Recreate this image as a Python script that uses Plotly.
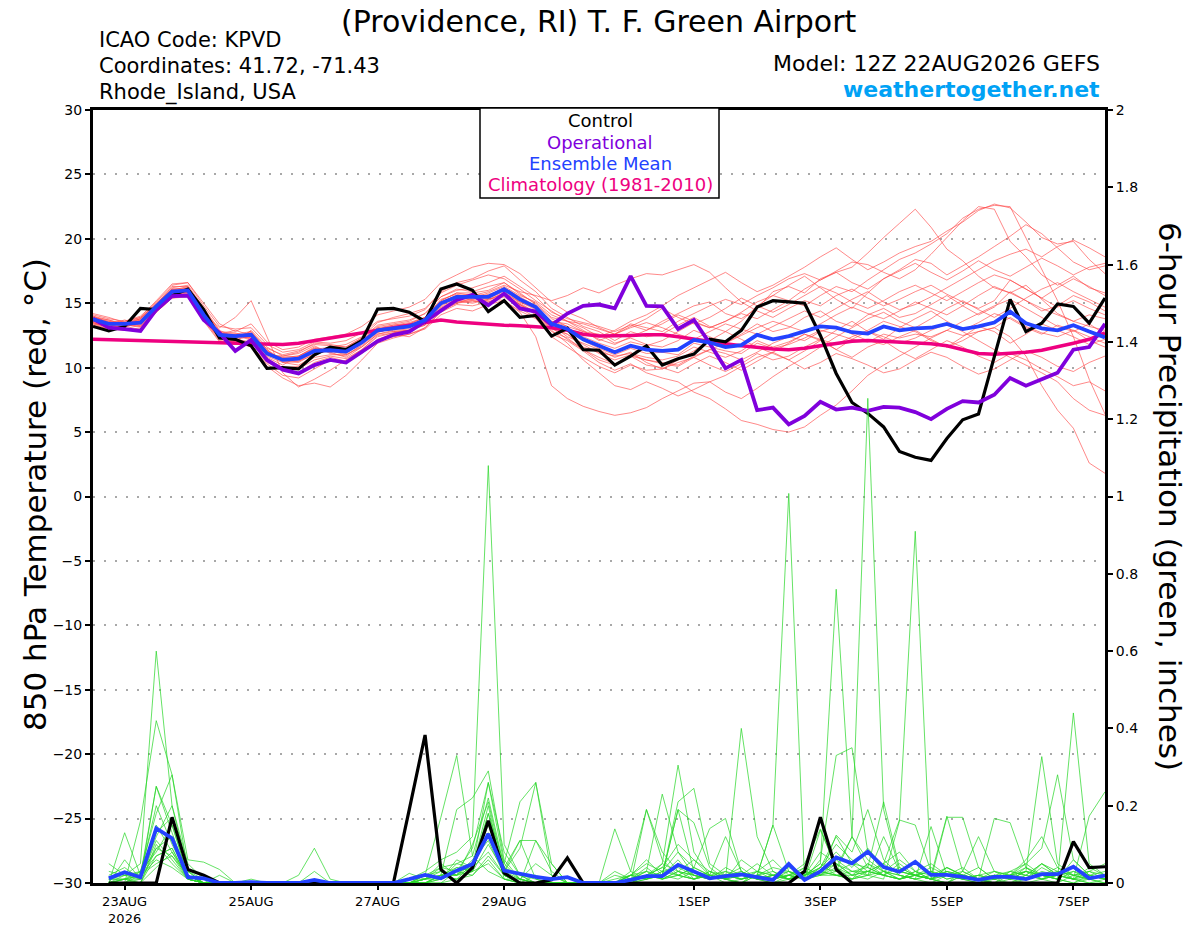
import pandas as pd
import plotly.graph_objects as go

# 6-hourly valid times, GEFS 12Z 22AUG2026 run
times = pd.date_range("2026-08-22 12:00", periods=65, freq="6h")
precip_times = times[1:]

tick_dates = ["2026-08-23", "2026-08-25", "2026-08-27", "2026-08-29",
              "2026-09-01", "2026-09-03", "2026-09-05", "2026-09-07"]
tick_labels = ["23AUG<br>2026", "25AUG", "27AUG", "29AUG",
               "1SEP", "3SEP", "5SEP", "7SEP"]

# ---- 850 hPa temperature (C) ----
control_t = [13.2, 12.85, 13.2, 14.6, 14.5, 15.6, 16.1, 14.5, 12.3, 12.2, 11.7, 9.95, 10.0,
             9.9, 11.0, 11.6, 11.4, 12.1, 14.55, 14.6, 14.3, 13.6, 16.1, 16.5, 16.0, 14.35,
             15.2, 13.9, 14.05, 12.45, 13.05, 11.4, 11.35, 10.2, 10.9, 11.7, 10.2, 10.7, 11.05,
             12.2, 12.0, 12.9, 14.7, 15.2, 15.1, 15.0, 12.5, 9.55, 7.3, 6.45, 5.4, 3.5,
             3.05, 2.8, 4.5, 5.95, 6.4, 10.9, 15.3, 12.8, 13.45, 14.95, 14.75, 13.45, 15.4]
operational_t = [13.8, 13.1, 13.0, 12.85, 14.5, 15.55, 15.6, 13.7, 12.7, 11.3, 12.15, 10.6, 9.85,
                 9.55, 10.2, 10.6, 10.4, 11.2, 12.05, 12.55, 12.8, 13.6, 14.45, 15.25, 15.65, 14.85,
                 15.75, 14.6, 14.35, 13.3, 14.2, 14.8, 14.9, 14.6, 17.1, 14.8, 14.75, 13.0, 13.7,
                 11.9, 9.95, 10.6, 6.7, 6.9, 5.6, 6.25, 7.35, 6.75, 6.9, 6.65, 6.95, 6.9,
                 6.55, 6.0, 6.8, 7.4, 7.3, 7.9, 9.2, 8.6, 9.1, 9.6, 11.4, 11.6, 13.4]
ens_mean_t = [13.75, 13.4, 13.4, 13.5, 14.75, 15.9, 16.0, 14.1, 12.55, 12.45, 12.55, 11.1, 10.6,
              10.7, 11.3, 11.35, 11.25, 11.95, 12.9, 13.05, 13.2, 13.7, 15.0, 15.5, 15.5, 15.5,
              16.1, 15.3, 14.7, 13.4, 13.0, 12.2, 11.7, 11.2, 11.7, 11.4, 11.3, 11.4, 12.15,
              11.95, 11.6, 11.75, 12.55, 12.2, 12.45, 12.8, 13.2, 13.1, 12.75, 12.65, 13.2, 12.9,
              13.05, 13.1, 13.4, 13.0, 13.2, 13.5, 14.35, 13.45, 13.05, 12.9, 13.3, 12.8, 12.35]
climatology_t = [12.2, 12.17, 12.14, 12.1, 12.07, 12.03, 12.0, 11.97, 11.93, 11.9, 11.87, 11.83, 11.8,
                 11.9, 12.1, 12.3, 12.5, 12.7, 12.9, 13.1, 13.3, 13.5, 13.7, 13.55, 13.45, 13.35,
                 13.3, 13.25, 13.2, 13.1, 12.9, 12.6, 12.45, 12.45, 12.5, 12.55, 12.55, 12.4, 12.2,
                 12.0, 11.85, 11.7, 11.55, 11.45, 11.4, 11.5, 11.7, 11.9, 12.05, 12.1, 12.05, 12.0,
                 11.95, 11.85, 11.7, 11.4, 11.1, 11.05, 11.1, 11.2, 11.35, 11.6, 11.9, 12.2, 12.7]

t01 = [13.9, 13.6, 13.3, 13.8, 15.0, 16.2, 16.4, 14.6, 12.9, 12.3, 12.8, 11.4, 10.4,
       10.2, 10.9, 11.6, 11.8, 12.4, 13.5, 13.9, 14.2, 14.6, 15.8, 16.4, 16.8, 17.2,
       16.9, 16.1, 15.2, 14.4, 13.6, 12.9, 12.1, 12.6, 13.4, 13.1, 12.8, 13.6, 14.2,
       14.8, 15.3, 14.9, 15.6, 16.2, 16.9, 17.3, 16.8, 17.5, 18.2, 18.0, 17.4, 16.9,
       17.6, 18.8, 20.1, 21.4, 22.5, 22.3, 19.8, 18.6, 17.2, 16.4, 17.1, 16.2, 15.8]
t02 = [13.6, 13.2, 13.5, 13.3, 14.5, 15.7, 15.9, 13.8, 12.2, 12.6, 12.1, 10.8, 10.2,
       10.9, 11.6, 11.2, 10.8, 11.6, 12.6, 12.9, 13.0, 13.4, 14.6, 15.2, 15.0, 15.3,
       15.8, 14.9, 14.2, 13.1, 12.2, 11.4, 10.6, 10.2, 10.9, 10.6, 10.3, 10.1, 10.8,
       11.4, 11.1, 10.6, 11.2, 11.9, 12.4, 12.1, 12.8, 13.2, 12.6, 12.1, 11.8, 12.4,
       12.9, 12.2, 11.6, 12.1, 12.8, 13.1, 12.4, 10.9, 8.6, 6.7, 5.3, 2.6, 1.8]
t03 = [14.0, 13.5, 13.6, 13.9, 14.9, 16.0, 16.3, 14.2, 12.4, 12.0, 12.9, 11.6, 10.9,
       11.2, 11.9, 11.8, 11.6, 12.3, 13.2, 13.4, 13.6, 14.2, 15.5, 16.1, 15.9, 16.3,
       16.6, 15.8, 14.9, 13.8, 13.2, 12.8, 12.2, 11.8, 12.4, 12.9, 13.6, 14.2, 14.8,
       15.1, 14.2, 13.8, 14.6, 15.9, 16.3, 15.8, 16.9, 17.4, 17.8, 18.9, 20.1, 21.2,
       22.3, 20.9, 19.2, 18.3, 17.1, 16.2, 15.8, 16.4, 15.3, 14.2, 13.6, 14.1, 13.8]
t04 = [13.5, 13.1, 13.2, 13.4, 14.6, 15.6, 15.8, 14.3, 12.8, 12.7, 12.3, 11.0, 10.8,
       10.9, 11.5, 11.2, 11.4, 12.1, 13.1, 12.8, 12.9, 13.5, 14.8, 15.3, 15.6, 15.4,
       15.2, 14.3, 12.4, 8.6, 7.6, 7.0, 6.6, 6.3, 6.5, 6.9, 7.6, 8.2, 8.8,
       8.9, 9.4, 10.1, 10.8, 11.2, 11.9, 12.6, 12.2, 11.8, 12.4, 12.9, 13.6, 13.2,
       12.8, 12.1, 11.6, 12.4, 13.2, 12.8, 11.9, 12.6, 13.4, 12.9, 12.4, 11.8, 12.2]
t05 = [13.8, 13.3, 13.1, 13.6, 14.8, 16.1, 15.8, 13.9, 12.6, 12.9, 12.5, 11.3, 10.5,
       10.4, 11.1, 11.3, 11.0, 11.7, 12.7, 13.2, 13.4, 13.9, 15.2, 15.8, 15.6, 15.9,
       16.4, 15.9, 15.6, 15.2, 15.6, 16.2, 15.8, 16.4, 16.9, 17.3, 17.2, 17.6, 18.0,
       17.4, 16.2, 15.1, 14.4, 13.9, 14.6, 15.2, 14.8, 15.6, 16.1, 15.4, 14.8, 15.3,
       15.9, 16.4, 15.7, 15.1, 14.6, 15.2, 16.8, 16.1, 15.4, 14.7, 15.2, 14.6, 14.1]
t06 = [13.4, 13.0, 13.4, 13.2, 14.4, 15.5, 15.6, 13.6, 12.0, 11.8, 11.9, 10.6, 9.8,
       9.6, 10.4, 10.8, 10.5, 11.2, 12.2, 12.6, 12.4, 13.1, 14.3, 14.9, 14.8, 15.1,
       15.5, 14.6, 13.9, 12.6, 12.1, 11.3, 10.4, 9.8, 10.3, 9.6, 9.2, 8.9, 8.1,
       7.6, 6.8, 5.9, 5.6, 5.2, 5.0, 5.4, 6.3, 7.1, 8.2, 9.4, 10.2, 10.9,
       11.6, 12.3, 12.9, 13.6, 14.2, 14.8, 15.3, 14.6, 13.9, 13.2, 12.8, 13.4, 12.6]
t07 = [13.7, 13.5, 13.3, 13.7, 14.7, 15.8, 16.1, 14.0, 12.5, 12.3, 12.6, 11.2, 10.7,
       10.8, 11.4, 11.6, 11.3, 12.0, 13.0, 13.2, 13.3, 13.8, 15.1, 15.6, 15.7, 15.6,
       16.2, 15.4, 14.8, 13.6, 13.4, 12.8, 12.6, 11.9, 12.3, 11.8, 11.6, 12.1, 12.9,
       12.4, 11.9, 12.6, 13.4, 12.8, 13.1, 13.9, 14.4, 13.6, 13.2, 14.1, 14.6, 13.9,
       14.2, 14.9, 15.6, 14.8, 14.1, 14.7, 15.9, 15.2, 14.4, 14.8, 15.6, 15.1, 14.4]
t08 = [14.1, 13.8, 13.6, 14.0, 15.1, 16.4, 16.6, 14.8, 13.2, 13.0, 13.1, 11.8, 11.2,
       11.4, 12.0, 11.9, 12.1, 12.7, 13.6, 13.8, 14.0, 14.5, 15.9, 16.6, 16.9, 17.5,
       17.9, 16.8, 15.9, 14.6, 13.9, 13.2, 12.8, 12.1, 12.8, 12.4, 12.6, 13.3, 13.9,
       13.2, 12.8, 13.6, 14.8, 15.6, 16.4, 17.1, 16.2, 15.3, 14.6, 15.8, 16.9, 17.6,
       18.4, 18.1, 17.2, 17.9, 18.6, 19.4, 20.2, 21.1, 20.4, 19.3, 18.2, 17.6, 17.9]
t09 = [13.3, 13.0, 12.9, 13.1, 14.3, 15.4, 15.5, 13.7, 12.1, 12.0, 11.6, 10.3, 9.4,
       9.2, 9.9, 10.6, 10.4, 11.1, 12.1, 12.4, 12.6, 13.0, 14.1, 14.6, 14.4, 14.9,
       15.2, 14.4, 13.8, 12.4, 11.6, 10.8, 10.1, 9.6, 10.2, 9.8, 9.9, 10.4, 10.8,
       10.2, 9.7, 10.3, 11.1, 10.6, 10.9, 11.6, 12.2, 11.4, 10.8, 11.6, 12.1, 11.3,
       10.7, 11.4, 12.1, 11.6, 10.9, 10.4, 11.1, 10.6, 9.9, 9.3, 8.6, 8.9, 8.2]
t10 = [13.6, 13.4, 13.7, 13.4, 14.6, 15.9, 16.2, 14.4, 12.7, 12.6, 12.2, 11.0, 10.9,
       11.1, 11.7, 11.1, 10.9, 11.8, 12.8, 13.0, 13.1, 13.6, 14.9, 15.4, 15.3, 15.7,
       16.0, 15.1, 14.5, 13.2, 12.6, 11.6, 11.2, 10.9, 11.1, 10.8, 10.6, 10.9, 11.6,
       11.2, 10.8, 11.3, 12.1, 11.6, 12.0, 12.6, 12.1, 11.4, 12.2, 12.8, 12.4, 11.9,
       12.3, 12.9, 13.4, 12.8, 12.1, 11.4, 10.8, 10.2, 9.6, 8.9, 7.6, 6.7, 6.3]
t11 = [14.2, 13.9, 13.5, 13.9, 15.2, 16.5, 16.6, 15.0, 13.4, 12.8, 13.4, 12.0, 11.4,
       11.6, 12.2, 12.4, 12.6, 13.2, 14.1, 14.4, 14.7, 15.3, 16.6, 17.2, 17.8, 18.1,
       18.0, 17.3, 16.2, 15.1, 14.3, 13.8, 13.1, 12.6, 13.2, 13.8, 14.6, 13.9, 13.4,
       13.9, 14.6, 15.4, 14.8, 14.3, 14.9, 15.6, 16.3, 15.8, 15.1, 14.6, 15.2, 15.9,
       16.4, 15.8, 15.2, 15.9, 16.6, 17.2, 16.8, 16.1, 15.4, 16.2, 16.9, 16.3, 15.6]
t12 = [13.5, 13.2, 13.0, 13.3, 14.5, 15.6, 15.9, 14.2, 13.1, 13.9, 15.2, 12.4, 9.6,
       8.5, 9.1, 9.8, 10.6, 11.4, 12.5, 12.7, 12.9, 13.3, 14.5, 15.0, 15.2, 15.0,
       15.6, 14.9, 14.1, 13.3, 12.4, 11.9, 11.4, 10.8, 11.2, 10.4, 9.9, 10.6, 11.3,
       12.1, 12.8, 12.2, 11.6, 11.1, 10.6, 11.3, 12.1, 12.9, 13.6, 12.8, 12.2, 13.1,
       13.8, 14.4, 13.6, 12.9, 13.5, 14.2, 13.8, 13.1, 12.6, 13.3, 12.9, 12.4, 11.9]
t13 = [13.9, 13.7, 13.4, 13.8, 14.8, 15.8, 16.2, 14.4, 12.3, 11.9, 11.8, 10.1, 9.2,
       8.6, 8.8, 8.5, 9.4, 10.6, 11.9, 12.3, 12.6, 13.1, 14.4, 15.0, 15.4, 15.8,
       16.3, 15.6, 15.1, 14.1, 13.6, 13.1, 12.4, 12.9, 13.6, 14.1, 14.8, 15.6, 16.2,
       16.8, 17.4, 16.6, 15.9, 16.4, 17.1, 17.8, 18.6, 19.3, 18.4, 17.6, 18.2, 18.9,
       19.4, 19.8, 20.6, 21.3, 22.2, 22.7, 22.4, 21.3, 20.1, 19.6, 19.8, 18.4, 17.3]
t14 = [13.8, 13.4, 13.5, 13.6, 14.8, 16.0, 16.0, 13.9, 12.4, 12.5, 12.7, 11.3, 10.6,
       10.6, 11.2, 11.4, 11.5, 12.2, 13.1, 13.3, 13.4, 13.9, 15.3, 15.7, 15.4, 15.2,
       15.8, 15.1, 14.6, 13.6, 13.2, 12.1, 11.5, 11.0, 11.5, 11.1, 11.2, 11.0, 11.9,
       11.6, 11.3, 11.1, 11.9, 11.5, 11.8, 12.3, 12.9, 12.6, 12.2, 12.0, 12.6, 12.3,
       12.6, 12.4, 12.9, 12.5, 12.8, 13.1, 13.9, 13.2, 12.7, 12.4, 12.9, 12.1, 11.6]
t15 = [13.6, 13.3, 13.2, 13.5, 14.7, 15.7, 15.9, 14.0, 12.6, 12.4, 12.3, 10.9, 10.4,
       10.5, 11.0, 11.4, 11.2, 11.9, 12.8, 13.0, 13.2, 13.6, 14.9, 15.4, 15.3, 15.4,
       15.9, 15.0, 14.3, 12.9, 11.9, 10.6, 9.6, 8.6, 8.3, 8.9, 8.4, 7.8, 8.3,
       8.9, 8.1, 7.6, 8.4, 9.3, 10.1, 10.8, 11.6, 12.4, 13.1, 13.8, 14.3, 13.6,
       13.1, 13.8, 14.6, 15.2, 14.5, 13.9, 14.6, 15.4, 16.1, 16.6, 15.9, 15.3, 14.7]
t16 = [13.7, 13.6, 13.4, 13.7, 14.9, 16.1, 16.2, 14.3, 12.7, 12.4, 12.5, 11.1, 10.8,
       10.9, 11.5, 11.3, 11.1, 11.9, 12.9, 13.1, 13.3, 13.8, 15.1, 15.6, 15.5, 15.6,
       16.2, 15.5, 14.8, 13.5, 13.1, 12.4, 11.9, 11.5, 12.0, 11.7, 12.1, 12.8, 13.5,
       13.1, 13.6, 14.2, 13.8, 14.5, 15.2, 14.8, 15.6, 16.3, 15.9, 16.8, 17.6, 18.4,
       18.9, 19.6, 20.4, 21.6, 22.3, 22.6, 22.5, 20.1, 17.6, 15.2, 12.4, 9.1, 6.4]
t17 = [14.0, 13.7, 13.3, 13.6, 14.9, 16.3, 16.3, 14.5, 12.8, 12.2, 12.4, 11.5, 11.0,
       11.3, 11.8, 11.7, 11.6, 12.3, 13.3, 13.5, 13.7, 14.2, 15.5, 16.0, 16.2, 16.6,
       17.1, 16.3, 15.5, 14.3, 13.8, 13.5, 13.2, 12.8, 13.3, 12.9, 13.4, 14.1, 13.6,
       13.1, 13.6, 14.3, 15.1, 15.6, 15.2, 16.1, 16.8, 17.4, 16.6, 16.1, 16.9, 17.5,
       18.1, 17.4, 16.8, 17.5, 18.3, 17.6, 17.1, 17.8, 18.5, 17.9, 17.2, 17.8, 18.1]
t18 = [13.5, 13.1, 13.3, 13.2, 14.5, 15.7, 15.7, 13.8, 12.3, 12.2, 12.0, 10.7, 10.0,
       10.1, 10.8, 11.0, 11.0, 11.6, 12.6, 12.8, 12.9, 13.4, 14.7, 15.2, 15.2, 15.1,
       15.6, 14.8, 14.2, 12.8, 12.3, 11.4, 10.8, 10.3, 10.9, 10.2, 10.0, 9.6, 10.3,
       10.9, 10.4, 9.8, 10.5, 11.2, 10.6, 9.9, 10.4, 11.1, 10.7, 10.2, 9.6, 9.9,
       10.6, 11.2, 10.8, 10.1, 9.5, 9.9, 10.6, 11.3, 10.8, 10.1, 9.7, 10.4, 10.9]
t19 = [13.9, 13.5, 13.5, 13.8, 15.0, 16.1, 16.1, 14.2, 12.6, 12.6, 12.8, 11.4, 10.6,
       10.5, 11.2, 11.5, 11.3, 12.0, 13.0, 13.3, 13.5, 13.9, 15.2, 15.8, 15.8, 16.0,
       16.6, 15.7, 15.0, 13.9, 13.6, 13.4, 13.0, 12.6, 13.1, 13.5, 13.1, 12.6, 12.2,
       12.8, 13.4, 13.0, 12.6, 13.2, 13.8, 14.4, 13.9, 14.6, 15.3, 15.9, 15.1, 14.5,
       14.9, 15.5, 16.2, 16.9, 17.6, 18.3, 18.8, 19.2, 18.6, 19.4, 19.9, 19.3, 18.6]
t20 = [13.4, 13.2, 12.9, 13.0, 14.3, 15.4, 15.6, 13.7, 12.3, 12.1, 11.7, 10.4, 9.9,
       9.9, 10.6, 10.9, 10.7, 11.4, 12.4, 12.7, 12.9, 13.3, 14.6, 15.1, 15.1, 15.3,
       15.7, 14.9, 14.3, 13.0, 12.6, 11.8, 11.1, 10.6, 11.0, 10.6, 10.4, 10.2, 10.9,
       11.4, 11.9, 12.5, 13.1, 13.6, 13.2, 12.8, 13.4, 14.1, 14.7, 14.2, 13.8, 14.4,
       15.1, 14.6, 14.1, 14.8, 15.6, 16.3, 15.8, 15.2, 14.6, 14.1, 13.6, 13.2, 12.9]

# ---- 6-hour precipitation (inches), 22AUG 18Z onward ----
control_p = [0, 0, 0, 0, 0.17, 0.035, 0.02, 0, 0, 0, 0, 0, 0, 0, 0, 0,
             0, 0, 0, 0.19, 0.383, 0.035, 0, 0.04, 0.161, 0.026, 0, 0, 0.008, 0.065, 0, 0,
             0, 0, 0, 0, 0, 0, 0, 0, 0, 0, 0, 0, 0.03, 0.17, 0.035, 0,
             0, 0, 0, 0, 0, 0, 0, 0, 0, 0, 0, 0, 0, 0.107, 0.04, 0.042]
ens_mean_p = [0.012, 0.028, 0.015, 0.141, 0.116, 0.015, 0.012, 0, 0, 0.002, 0, 0, 0, 0.008, 0, 0,
              0, 0, 0, 0.01, 0.021, 0.012, 0.032, 0.049, 0.127, 0.032, 0.023, 0.016, 0.01, 0.015, 0, 0,
              0, 0.008, 0.018, 0.018, 0.047, 0.03, 0.012, 0.018, 0.022, 0.015, 0.008, 0.049, 0.008, 0.03, 0.066, 0.051,
              0.081, 0.041, 0.029, 0.055, 0.021, 0.021, 0.016, 0.008, 0.016, 0.016, 0.01, 0.023, 0.023, 0.042, 0.012, 0.019]

p01 = [0.01, 0.02, 0.05, 0.60, 0.20, 0.05, 0.01, 0, 0, 0, 0, 0, 0, 0, 0, 0,
       0, 0, 0, 0.01, 0.03, 0.06, 0.08, 0.12, 1.08, 0.10, 0.02, 0, 0, 0, 0, 0,
       0, 0.02, 0.05, 0.03, 0.08, 0.04, 0.02, 0, 0.01, 0.03, 0.06, 0.02, 0.01, 0.04, 0.10, 0.06,
       0.03, 0.05, 0.02, 0.01, 0, 0.02, 0.04, 0.01, 0, 0, 0.02, 0.05, 0.03, 0.01, 0, 0]
p02 = [0, 0, 0.16, 0.42, 0.28, 0.03, 0, 0, 0, 0, 0, 0, 0, 0, 0, 0,
       0, 0, 0, 0, 0.02, 0.17, 0.33, 0.07, 0.03, 0.01, 0, 0, 0, 0, 0, 0,
       0, 0, 0.02, 0.04, 0.10, 0.06, 0.02, 0.01, 0.40, 0.12, 0.03, 0.01, 0.02, 0.08, 0.05, 0.02,
       0.01, 0.03, 0.06, 0.03, 0.01, 0, 0.02, 0.04, 0.01, 0, 0.01, 0.05, 0.02, 0.01, 0.03, 0.02]
p03 = [0, 0.13, 0.02, 0.25, 0.15, 0.02, 0, 0, 0, 0, 0, 0, 0, 0, 0, 0,
       0, 0, 0, 0, 0, 0.02, 0.19, 0.22, 0.29, 0.06, 0.01, 0, 0, 0, 0, 0,
       0.14, 0.03, 0.01, 0.02, 0.05, 0.02, 0.01, 0.02, 0.04, 0.01, 0, 0.01, 0.02, 0.05, 0.76, 0.12,
       0.04, 0.02, 0.01, 0.03, 0.05, 0.02, 0.01, 0, 0.01, 0.02, 0.04, 0.01, 0, 0.02, 0.01, 0]
p04 = [0, 0, 0.03, 0.18, 0.28, 0.06, 0.054, 0.035, 0, 0, 0, 0, 0, 0, 0, 0,
       0, 0, 0, 0, 0, 0, 0.03, 0.09, 0.26, 0.05, 0.21, 0.26, 0.05, 0, 0, 0,
       0, 0, 0.19, 0.06, 0.02, 0.01, 0.03, 0.01, 0, 0.02, 0.15, 1.008, 0.01, 0.03, 0.02, 0.01,
       0.02, 0.05, 0.08, 0.03, 0.01, 0, 0.02, 0.01, 0, 0.03, 0.05, 0.02, 0.01, 0, 0.02, 0.01]
p05 = [0.01, 0.03, 0.02, 0.20, 0.10, 0.02, 0, 0, 0, 0, 0, 0, 0, 0, 0, 0,
       0, 0, 0, 0.025, 0.01, 0.05, 0.02, 0.10, 0.21, 0.03, 0.11, 0.11, 0.03, 0, 0, 0,
       0, 0.01, 0.03, 0.23, 0.08, 0.02, 0.01, 0.04, 0.02, 0.01, 0, 0.02, 0.01, 0.06, 0.33, 0.35,
       0.08, 0.03, 0.01, 0.02, 0.01, 0.04, 0.02, 0.01, 0, 0.01, 0.03, 0.02, 0.01, 0, 0.01, 0.02]
p06 = [0, 0.06, 0.01, 0.12, 0.20, 0.03, 0, 0, 0, 0, 0, 0, 0, 0, 0, 0,
       0, 0, 0, 0, 0, 0.01, 0.05, 0.04, 0.18, 0.02, 0, 0.11, 0.05, 0, 0, 0,
       0, 0.02, 0.01, 0.05, 0.305, 0.08, 0.02, 0.01, 0, 0.03, 0.01, 0.02, 0.05, 0.14, 0.04, 0.12,
       1.254, 0.19, 0.03, 0.02, 0.01, 0, 0.03, 0.01, 0, 0.02, 0.01, 0.04, 0.02, 0.01, 0, 0.01]
p07 = [0, 0.01, 0, 0.09, 0.12, 0.02, 0, 0, 0, 0, 0, 0, 0.02, 0.09, 0.01, 0,
       0, 0, 0, 0, 0.01, 0.03, 0.02, 0.05, 0.12, 0.04, 0.01, 0, 0, 0, 0, 0,
       0.03, 0.01, 0.02, 0.02, 0.21, 0.245, 0.05, 0.02, 0.01, 0.02, 0.01, 0.03, 0.02, 0.04, 0.12, 0.05,
       0.02, 0.01, 0.16, 0.91, 0.01, 0.04, 0.02, 0.01, 0.02, 0.01, 0, 0.01, 0.03, 0.02, 0.01, 0]
p08 = [0.05, 0.02, 0.01, 0.15, 0.08, 0.01, 0, 0, 0, 0, 0, 0, 0, 0, 0, 0,
       0, 0, 0, 0.01, 0.02, 0.04, 0.03, 0.04, 0.26, 0.08, 0.02, 0.01, 0, 0, 0, 0,
       0, 0.03, 0.19, 0.08, 0.03, 0.02, 0.01, 0.03, 0.02, 0.05, 0.02, 0.01, 0.03, 0.02, 0.05, 0.03,
       0.04, 0.21, 0.04, 0.02, 0.01, 0.17, 0.17, 0.04, 0.01, 0.02, 0.05, 0.09, 0.28, 0.06, 0.02, 0.01]
p09 = [0, 0, 0, 0.07, 0.09, 0.01, 0, 0.02, 0, 0, 0, 0, 0, 0, 0, 0,
       0, 0, 0, 0, 0, 0.02, 0.04, 0.03, 0.18, 0.05, 0.01, 0, 0, 0, 0, 0,
       0.01, 0.02, 0.06, 0.02, 0.19, 0.156, 0.04, 0.01, 0, 0.02, 0.15, 0.03, 0.01, 0.137, 0.04, 0.02,
       0.03, 0.05, 0.163, 0.15, 0.03, 0.01, 0.02, 0.01, 0.01, 0.02, 0.03, 0.01, 0.02, 0.01, 0.04, 0.02]
p10 = [0, 0.01, 0, 0.10, 0.05, 0.01, 0, 0, 0, 0.01, 0, 0, 0, 0.03, 0, 0,
       0, 0, 0, 0.01, 0.01, 0.02, 0.01, 0.05, 0.13, 0.02, 0, 0, 0, 0, 0, 0,
       0, 0.01, 0.03, 0.01, 0.02, 0.04, 0.141, 0.167, 0.03, 0.01, 0.02, 0.02, 0.04, 0.02, 0.124, 0.08,
       0.19, 0.06, 0.02, 0.01, 0.146, 0.02, 0.01, 0, 0.02, 0.01, 0.03, 0.327, 0.05, 0.02, 0.03, 0.01]
p11 = [0.02, 0.04, 0.01, 0.25, 0.13, 0.02, 0, 0, 0, 0, 0, 0, 0, 0, 0, 0,
       0, 0, 0, 0, 0.01, 0.01, 0.03, 0.05, 0.15, 0.04, 0.11, 0.01, 0, 0, 0, 0,
       0, 0.01, 0.02, 0.05, 0.03, 0.01, 0.02, 0.12, 0.03, 0.01, 0.02, 0.04, 0.02, 0.03, 0.02, 0.01,
       0.05, 0.02, 0.01, 0.03, 0.02, 0.173, 0.03, 0.01, 0.167, 0.156, 0.04, 0.02, 0.01, 0.44, 0.05, 0.02]
p12 = [0, 0.02, 0.03, 0.08, 0.15, 0.02, 0, 0, 0, 0, 0, 0, 0, 0, 0, 0,
       0, 0, 0, 0, 0, 0.02, 0.01, 0.03, 0.10, 0.03, 0.09, 0.26, 0.02, 0, 0, 0,
       0, 0.02, 0.01, 0.03, 0.02, 0.01, 0.02, 0.03, 0.01, 0.02, 0.04, 0.03, 0.01, 0.02, 0.04, 0.01,
       0.02, 0.03, 0.01, 0.02, 0.01, 0.02, 0.03, 0.12, 0.03, 0.01, 0.02, 0.05, 0.02, 0.01, 0.173, 0.236]
p13 = [0, 0, 0.02, 0.05, 0.07, 0.01, 0, 0, 0, 0, 0, 0, 0, 0, 0, 0,
       0, 0, 0, 0, 0.02, 0.03, 0.02, 0.04, 0.08, 0.02, 0.01, 0.05, 0.02, 0, 0, 0,
       0, 0, 0.01, 0.02, 0.01, 0.03, 0.02, 0.01, 0.06, 0.03, 0.02, 0.01, 0.02, 0.05, 0.02, 0.01,
       0.03, 0.02, 0.04, 0.02, 0.01, 0.03, 0.02, 0.01, 0.03, 0.02, 0.01, 0.03, 0.02, 0.04, 0.02, 0.01]
p14 = [0.01, 0.01, 0.02, 0.06, 0.04, 0.01, 0, 0, 0, 0, 0, 0, 0, 0, 0, 0,
       0, 0, 0, 0, 0, 0, 0.01, 0.02, 0.06, 0.01, 0, 0, 0, 0, 0, 0,
       0, 0, 0.02, 0.01, 0.03, 0.02, 0.01, 0.02, 0.01, 0.02, 0.01, 0.02, 0.03, 0.02, 0.03, 0.05,
       0.04, 0.02, 0.01, 0.02, 0.03, 0.01, 0.02, 0.01, 0.02, 0.03, 0.02, 0.01, 0.02, 0.03, 0.01, 0.02]
p15 = [0, 0, 0, 0.04, 0.08, 0.02, 0, 0, 0, 0, 0, 0, 0, 0, 0, 0,
       0, 0, 0, 0, 0.01, 0.02, 0.03, 0.02, 0.07, 0.02, 0, 0, 0, 0, 0, 0,
       0, 0.01, 0.02, 0.04, 0.02, 0.01, 0.03, 0.02, 0.01, 0.02, 0.03, 0.01, 0.02, 0.04, 0.03, 0.12,
       0.06, 0.03, 0.02, 0.01, 0.02, 0.04, 0.02, 0.01, 0.02, 0.01, 0.03, 0.02, 0.04, 0.01, 0.02, 0.03]
p16 = [0, 0.01, 0.01, 0.11, 0.06, 0.01, 0, 0, 0, 0, 0, 0, 0, 0, 0, 0,
       0, 0, 0, 0, 0, 0.01, 0.06, 0.04, 0.20, 0.01, 0, 0, 0, 0, 0, 0,
       0.02, 0.01, 0.04, 0.01, 0.03, 0.06, 0.03, 0.01, 0.02, 0.03, 0.02, 0.01, 0.04, 0.02, 0.02, 0.03,
       0.02, 0.12, 0.03, 0.02, 0.04, 0.02, 0.01, 0.02, 0.03, 0.02, 0.06, 0.12, 0.04, 0.02, 0.03, 0.05]
p17 = [0, 0, 0.01, 0.13, 0.17, 0.03, 0.01, 0, 0, 0, 0, 0, 0, 0, 0, 0,
       0, 0, 0, 0, 0.01, 0.04, 0.05, 0.07, 0.22, 0.04, 0.02, 0, 0, 0, 0, 0,
       0, 0.02, 0.01, 0.03, 0.04, 0.02, 0.01, 0.02, 0.03, 0.01, 0.02, 0.03, 0.01, 0.02, 0.06, 0.03,
       0.03, 0.02, 0.05, 0.02, 0.03, 0.02, 0.01, 0.02, 0.01, 0.02, 0.03, 0.02, 0.01, 0.06, 0.02, 0.01]
p18 = [0.03, 0.02, 0.02, 0.09, 0.07, 0.02, 0, 0, 0, 0, 0, 0, 0, 0, 0, 0,
       0, 0, 0, 0, 0, 0.02, 0.02, 0.03, 0.05, 0.01, 0.01, 0, 0, 0, 0, 0,
       0, 0, 0.01, 0.02, 0.06, 0.01, 0.02, 0.01, 0.03, 0.01, 0.01, 0.02, 0.01, 0.03, 0.02, 0.02,
       0.05, 0.03, 0.02, 0.01, 0.02, 0.03, 0.01, 0.02, 0.01, 0.03, 0.02, 0.01, 0.02, 0.01, 0.01, 0.02]
p19 = [0, 0.01, 0.03, 0.14, 0.11, 0.02, 0, 0, 0, 0, 0, 0, 0, 0, 0, 0,
       0, 0, 0, 0, 0.02, 0.01, 0.04, 0.03, 0.16, 0.03, 0.01, 0, 0, 0, 0, 0,
       0, 0.02, 0.03, 0.02, 0.19, 0.03, 0.01, 0.02, 0.01, 0.02, 0.01, 0.02, 0.01, 0.04, 0.08, 0.04,
       0.09, 0.04, 0.03, 0.02, 0.01, 0.03, 0.02, 0.01, 0.02, 0.01, 0.04, 0.02, 0.03, 0.02, 0.01, 0.02]
p20 = [0.01, 0.01, 0.02, 0.07, 0.09, 0.01, 0, 0, 0, 0, 0, 0, 0, 0, 0, 0,
       0, 0, 0, 0, 0.01, 0.02, 0.02, 0.06, 0.11, 0.02, 0, 0.02, 0, 0, 0, 0,
       0, 0.01, 0.02, 0.01, 0.02, 0.04, 0.02, 0.01, 0.02, 0.01, 0.02, 0.01, 0.02, 0.03, 0.05, 0.02,
       0.03, 0.02, 0.01, 0.02, 0.01, 0.02, 0.01, 0.02, 0.01, 0.02, 0.01, 0.02, 0.01, 0.03, 0.02, 0.01]

temp_members = [t01, t02, t03, t04, t05, t06, t07, t08, t09, t10,
                t11, t12, t13, t14, t15, t16, t17, t18, t19, t20]
precip_members = [p01, p02, p03, p04, p05, p06, p07, p08, p09, p10,
                  p11, p12, p13, p14, p15, p16, p17, p18, p19, p20]

for s in temp_members + [control_t, operational_t, ens_mean_t, climatology_t]:
    assert len(s) == len(times), len(s)
for s in precip_members + [control_p, ens_mean_p]:
    assert len(s) == len(precip_times), len(s)

FONT = "DejaVu Sans"
RED = "rgba(255,70,70,0.8)"
GREEN = "rgba(40,215,40,0.9)"
BLUE = "#2342ff"
PURPLE = "#8000dc"
PINK = "#ee0080"

# plot box in page pixels (the page margin is removed below, so page = figure)
L, R, T, B = 93, 1105, 110, 883
W, H = 1200, 927


def px(x):
    return (x - L) / (R - L)


def py(y):
    return (B - y) / (B - T)


fig = go.Figure()

for m in temp_members:
    fig.add_trace(go.Scatter(x=times, y=m, mode="lines",
                             line=dict(color=RED, width=0.8), showlegend=False))
for m in precip_members:
    fig.add_trace(go.Scatter(x=precip_times, y=m, mode="lines", yaxis="y2",
                             line=dict(color=GREEN, width=0.8), showlegend=False))

fig.add_trace(go.Scatter(x=times, y=climatology_t, mode="lines",
                         line=dict(color=PINK, width=3.5), showlegend=False))
fig.add_trace(go.Scatter(x=times, y=control_t, mode="lines",
                         line=dict(color="black", width=3.2), showlegend=False))
fig.add_trace(go.Scatter(x=times, y=operational_t, mode="lines",
                         line=dict(color=PURPLE, width=3.8), showlegend=False))
fig.add_trace(go.Scatter(x=times, y=ens_mean_t, mode="lines",
                         line=dict(color=BLUE, width=3.8), showlegend=False))
fig.add_trace(go.Scatter(x=precip_times, y=control_p, mode="lines", yaxis="y2",
                         line=dict(color="black", width=3.2), showlegend=False))
fig.add_trace(go.Scatter(x=precip_times, y=ens_mean_p, mode="lines", yaxis="y2",
                         line=dict(color=BLUE, width=3.8), showlegend=False))

annotations = [
    dict(text="(Providence, RI) T. F. Green Airport", x=px(599), y=py(21),
         font=dict(size=30)),
    dict(text="ICAO Code: KPVD", x=px(97), y=py(40), xanchor="left"),
    dict(text="Coordinates: 41.72, -71.43", x=px(97), y=py(66), xanchor="left"),
    dict(text="Rhode_Island, USA", x=px(97), y=py(93), xanchor="left"),
    dict(text="Model: 12Z 22AUG2026 GEFS", x=px(1102), y=py(63), xanchor="right",
         font=dict(size=22)),
    dict(text="<b>weathertogether.net</b>", x=px(1102), y=py(89), xanchor="right",
         font=dict(size=22, color="#00a2f5")),
    dict(text="Control", x=px(600), y=py(121), font=dict(size=18, color="black")),
    dict(text="Operational", x=px(600), y=py(142), font=dict(size=18, color=PURPLE)),
    dict(text="Ensemble Mean", x=px(600), y=py(163), font=dict(size=18, color=BLUE)),
    dict(text="Climatology (1981-2010)", x=px(600), y=py(185), font=dict(size=18, color=PINK)),
    dict(text="850 hPa Temperature (red, °C)", x=px(35), y=py(495), textangle=-90,
         font=dict(size=31)),
    dict(text="6-hour Precipitation (green, inches)", x=px(1170), y=py(496), textangle=90,
         font=dict(size=31)),
]
for a in annotations:
    a.update(xref="paper", yref="paper", showarrow=False, yanchor="middle")
    a.setdefault("xanchor", "center")
    a.setdefault("font", dict(size=21))
    a["font"].setdefault("color", "black")
    a["font"]["family"] = FONT

axis_common = dict(zeroline=False, showline=True, linecolor="black", linewidth=3,
                   ticks="outside", ticklen=5, tickwidth=1.5, tickcolor="black",
                   tickfont=dict(size=14), automargin=False)

fig.update_layout(
    width=W, height=H,
    margin=dict(l=L, r=W - R, t=T, b=H - B, pad=0, autoexpand=False),
    paper_bgcolor="white", plot_bgcolor="white",
    font=dict(family=FONT, color="black"),
    showlegend=False,
    annotations=annotations,
    shapes=[dict(type="rect", xref="paper", yref="paper",
                 x0=px(480), x1=px(719), y0=py(198), y1=py(108),
                 line=dict(color="black", width=1.5), fillcolor="white", layer="above")],
    xaxis=dict(range=[times[0], times[-1]], tickvals=tick_dates, ticktext=tick_labels,
               showgrid=False, mirror=True, **axis_common),
    yaxis=dict(range=[-30, 30], tickvals=list(range(-30, 31, 5)),
               showgrid=True, gridcolor="#a8a8a8", gridwidth=1.5, griddash="2px,9px",
               mirror=True, **axis_common),
    yaxis2=dict(range=[0, 2], dtick=0.2, overlaying="y", side="right",
                showgrid=False, **axis_common),
)
fig.update_xaxes(tickfont=dict(size=13), ticklen=4)

# drop the browser's default 8px body margin so the figure sits at the page corner
fig.write_html("out.html", config={"displayModeBar": False},
               post_script="document.body.style.margin='0';")
